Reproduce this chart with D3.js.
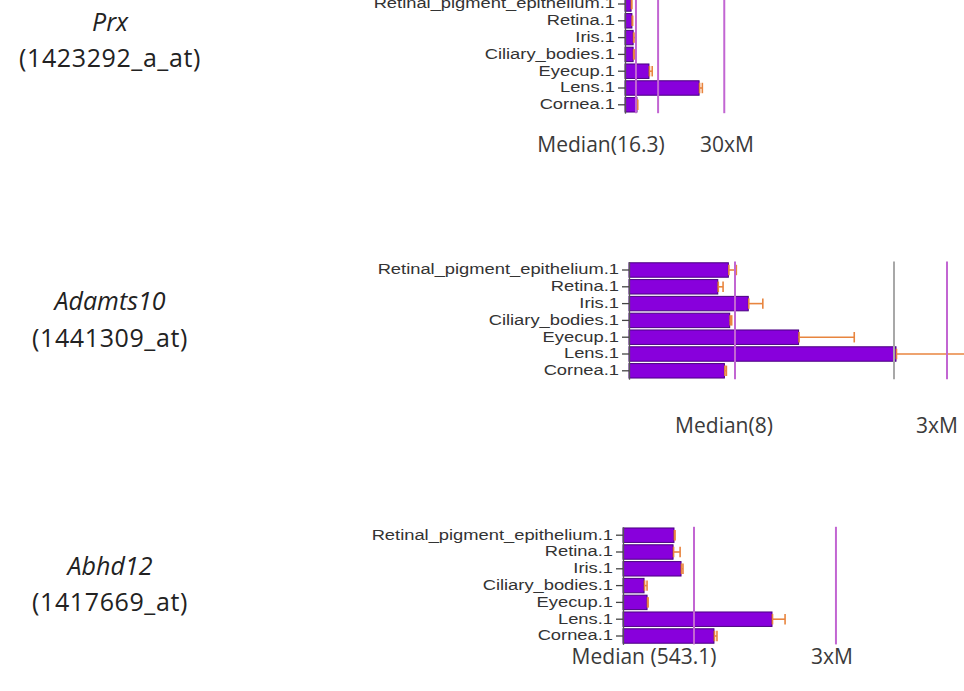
<!DOCTYPE html>
<html>
<head>
<meta charset="utf-8">
<script src="https://cdn.jsdelivr.net/npm/d3@7/dist/d3.min.js"></script>
<style>
  html, body { margin: 0; padding: 0; background: #fff; }
  svg { display: block; }
</style>
</head>
<body>
<div id="chart"></div>
<script>
// --- data ---
const tissues = ["Retinal_pigment_epithelium.1", "Retina.1", "Iris.1", "Ciliary_bodies.1", "Eyecup.1", "Lens.1", "Cornea.1"];

const genes = ["Prx", "Adamts10", "Abhd12"];
const probes = ["(1423292_a_at)", "(1441309_at)", "(1417669_at)"];

const prxMean = [3.0, 3.4, 4.0, 4.0, 11.8, 36.5, 5.9];
const prxErr = [0.3, 0.3, 1.0, 0.8, 1.6, 1.6, 0.3];
const prxRefs = [5.4, 16.3, 48.9];
const prxRefColors = ["#c266d2", "#c266d2", "#c266d2"];

const adamts10Mean = [7.5, 6.7, 9.0, 7.6, 12.8, 20.15, 7.2];
const adamts10Err = [0.6, 0.4, 1.1, 0.15, 4.2, 6.0, 0.15];
const adamts10Refs = [8, 20, 24];
const adamts10RefColors = ["#c266d2", "#a8a8a8", "#c266d2"];

const abhd12Mean = [390, 383, 444, 161, 184, 1140, 696];
const abhd12Err = [8, 54, 15, 23, 8, 100, 23];
const abhd12Refs = [543.1, 1629.3];
const abhd12RefColors = ["#c266d2", "#c266d2"];

const medianLabels = ["Median(16.3)", "Median(8)", "Median (543.1)"];
const foldLabels = ["30xM", "3xM", "3xM"];

// --- layout per panel (pixel placement only) ---
const W = 964, H = 691;
const layout = [
  { top: -4.4, x0: 625, ppu: 2.03,   geneY: 31,  probeY: 67,  noteY: 152, medX: 601, foldX: 727 },
  { top: 261.6, x0: 629, ppu: 13.25, geneY: 310, probeY: 347, noteY: 433, medX: 724, foldX: 937 },
  { top: 526.8, x0: 623, ppu: 0.1307, geneY: 575, probeY: 611, noteY: 664, medX: 644, foldX: 832 }
];
const panels = [
  { mean: prxMean, err: prxErr, refs: prxRefs, refColors: prxRefColors },
  { mean: adamts10Mean, err: adamts10Err, refs: adamts10Refs, refColors: adamts10RefColors },
  { mean: abhd12Mean, err: abhd12Err, refs: abhd12Refs, refColors: abhd12RefColors }
];

const BAR = "#8800dc", BAR_EDGE = "#4a0080", ERR = "#e8853f";
const PLOT_H = 117.6, PLOT_W = 340, STRETCH = 1.31;

const svg = d3.select("#chart").append("svg")
  .attr("width", W).attr("height", H)
  .attr("viewBox", `0 0 ${W} ${H}`);

panels.forEach((p, i) => {
  const L = layout[i];
  const g = svg.append("g");

  const y = d3.scaleBand().domain(tissues)
    .range([L.top, L.top + PLOT_H])
    .paddingInner(0.14).paddingOuter(0.07);
  const x = d3.scaleLinear().domain([0, PLOT_W / L.ppu])
    .range([L.x0, L.x0 + PLOT_W]);

  // bars
  g.selectAll("rect.bar").data(tissues).join("rect")
    .attr("class", "bar")
    .attr("x", x(0))
    .attr("y", d => y(d))
    .attr("width", (d, k) => x(p.mean[k]) - x(0))
    .attr("height", y.bandwidth())
    .attr("fill", BAR).attr("stroke", BAR_EDGE).attr("stroke-width", 1);

  // error bars
  const eb = g.selectAll("g.err").data(tissues).join("g").attr("class", "err")
    .attr("stroke", ERR).attr("stroke-width", 1.6);
  eb.append("line")
    .attr("x1", (d, k) => x(p.mean[k])).attr("x2", (d, k) => x(p.mean[k] + p.err[k]))
    .attr("y1", d => y(d) + y.bandwidth() / 2).attr("y2", d => y(d) + y.bandwidth() / 2);
  eb.append("line")
    .attr("x1", (d, k) => x(p.mean[k]) + 0.5).attr("x2", (d, k) => x(p.mean[k]) + 0.5)
    .attr("y1", d => y(d) + 2).attr("y2", d => y(d) + y.bandwidth() - 2);
  eb.append("line")
    .attr("x1", (d, k) => x(p.mean[k] + p.err[k])).attr("x2", (d, k) => x(p.mean[k] + p.err[k]))
    .attr("y1", d => y(d) + 2).attr("y2", d => y(d) + y.bandwidth() - 2);

  // reference lines (median, fold lines)
  g.selectAll("line.ref").data(p.refs).join("line")
    .attr("class", "ref")
    .attr("x1", d => x(d)).attr("x2", d => x(d))
    .attr("y1", L.top).attr("y2", L.top + PLOT_H)
    .attr("stroke", (d, k) => p.refColors[k]).attr("stroke-width", 2);

  // category axis
  const ax = g.append("g").attr("transform", `translate(${x(0)},0)`)
    .call(d3.axisLeft(y).tickSize(7).tickSizeOuter(0));
  ax.select(".domain").attr("stroke", "#555").attr("stroke-width", 1.3);
  ax.selectAll(".tick line").attr("stroke", "#444").attr("stroke-width", 1.3);
  ax.selectAll(".tick text")
    .attr("x", -10 / STRETCH)
    .attr("transform", `scale(${STRETCH},1)`)
    .style("font-family", "'Liberation Sans', Arial, sans-serif")
    .style("font-size", "14px")
    .attr("fill", "#333");

  // gene / probe labels
  g.append("text").attr("x", 110).attr("y", L.geneY)
    .attr("text-anchor", "middle")
    .style("font-family", "'Open Sans', 'Noto Sans', sans-serif")
    .style("font-style", "italic").style("font-size", "25px")
    .attr("fill", "#222").text(genes[i]);
  g.append("text").attr("x", 110).attr("y", L.probeY)
    .attr("text-anchor", "middle")
    .style("font-family", "'Open Sans', 'Noto Sans', sans-serif")
    .style("font-size", "25px").style("letter-spacing", "0.6px")
    .attr("fill", "#222").text(probes[i]);

  // notes under the plot
  g.append("text").attr("x", L.medX).attr("y", L.noteY)
    .attr("text-anchor", "middle")
    .style("font-family", "'Open Sans', 'Noto Sans', sans-serif")
    .style("font-size", "21px")
    .attr("fill", "#3a3a3a").text(medianLabels[i]);
  g.append("text").attr("x", L.foldX).attr("y", L.noteY)
    .attr("text-anchor", "middle")
    .style("font-family", "'Open Sans', 'Noto Sans', sans-serif")
    .style("font-size", "21px")
    .attr("fill", "#3a3a3a").text(foldLabels[i]);
});
</script>
</body>
</html>
